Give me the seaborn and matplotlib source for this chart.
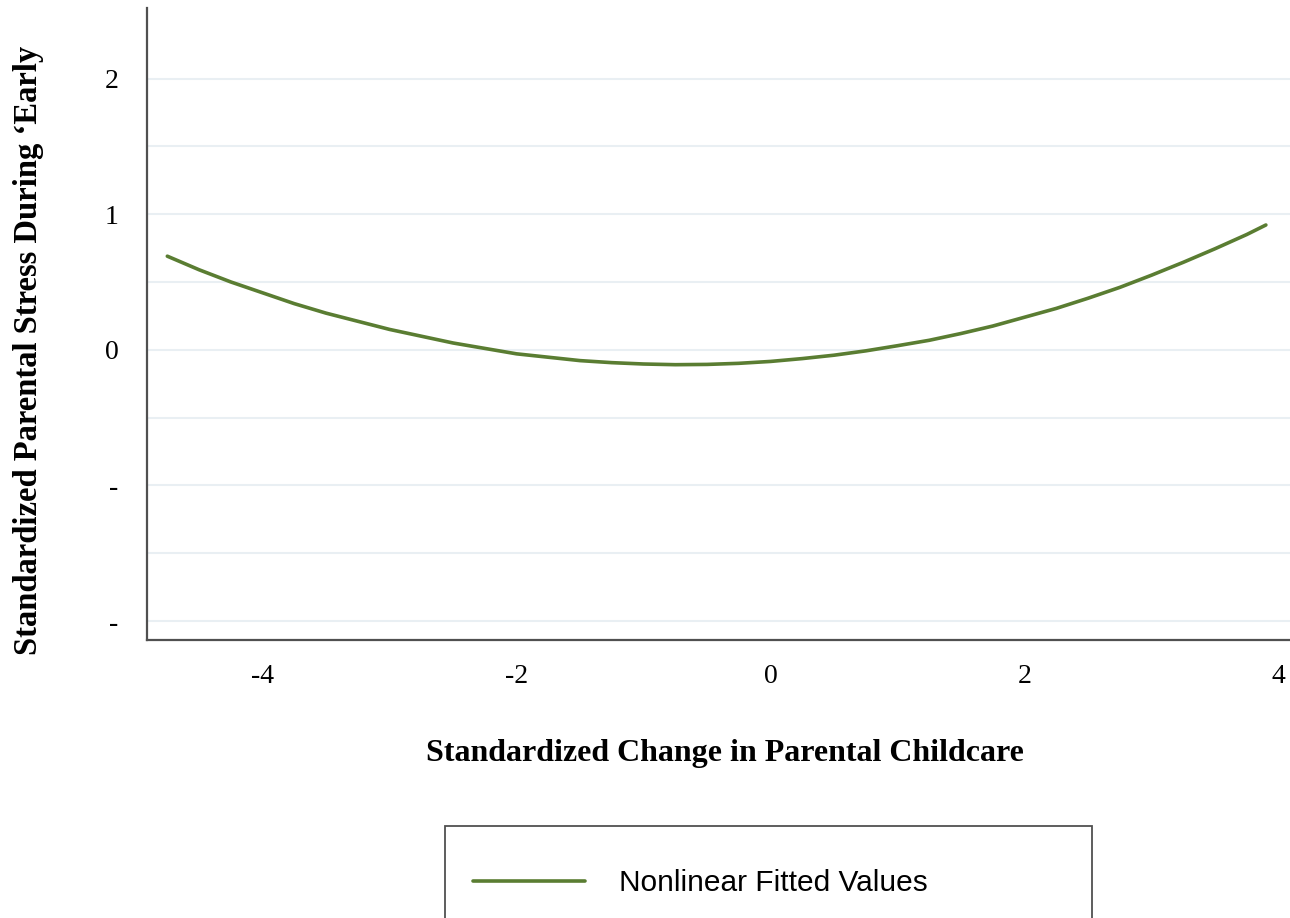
import matplotlib
matplotlib.use("Agg")
import matplotlib.pyplot as plt
import numpy as np
import pandas as pd
import seaborn as sns
from matplotlib.patches import Rectangle
from matplotlib.ticker import FixedLocator, FixedFormatter

# values
change_childcare = [-4.75, -4.5, -4.25, -4.0, -3.75, -3.5, -3.25, -3.0, -2.75, -2.5,
                    -2.25, -2.0, -1.75, -1.5, -1.25, -1.0, -0.75, -0.5, -0.25, 0.0,
                    0.25, 0.5, 0.75, 1.0, 1.25, 1.5, 1.75, 2.0, 2.25, 2.5,
                    2.75, 3.0, 3.25, 3.5, 3.75, 3.9]
fitted_stress = [0.69, 0.59, 0.50, 0.42, 0.34, 0.27, 0.21, 0.15, 0.10, 0.05,
                 0.01, -0.03, -0.055, -0.08, -0.095, -0.105, -0.11, -0.108, -0.10, -0.086,
                 -0.065, -0.04, -0.008, 0.03, 0.07, 0.12, 0.175, 0.24, 0.305, 0.38,
                 0.46, 0.55, 0.645, 0.745, 0.85, 0.92]

y_ticks = [2, 1, 0, -1, -2]
y_tick_labels = ["2", "1", "0", "-", "-"]
y_grid = [2, 1.5, 1, 0.5, 0, -0.5, -1, -1.5, -2]
x_ticks = [-4, -2, 0, 2, 4]
x_tick_labels = ["-4", "-2", "0", "2", "4"]

LINE_COLOR = "#5a7d32"
AXIS_COLOR = "#505050"
GRID_COLOR = "#e9eff3"

sns.set_style("white")
plt.rcParams["font.family"] = ["Liberation Serif", "DejaVu Serif"]
plt.rcParams["text.color"] = "black"

df = pd.DataFrame({"x": change_childcare, "y": fitted_stress})

fig = plt.figure(figsize=(12.9, 9.18), dpi=100)
ax = fig.add_axes([147 / 1290, 1 - 640 / 918, 1 - 147 / 1290, (640 - 8) / 918])

sns.lineplot(data=df, x="x", y="y", ax=ax, color=LINE_COLOR, linewidth=2.6,
             label="Nonlinear Fitted Values", legend=False)

ax.set_xlim(-4.91, 4.09)
ax.set_ylim(-2.14, 2.52)

ax.yaxis.set_major_locator(FixedLocator(y_ticks))
ax.yaxis.set_major_formatter(FixedFormatter(y_tick_labels))
ax.set_xticks(x_ticks)
ax.set_xticklabels(x_tick_labels)

for g in y_grid:
    ax.axhline(g, color=GRID_COLOR, linewidth=1.5, zorder=0)

for side in ["top", "right"]:
    ax.spines[side].set_visible(False)
for side in ["left", "bottom"]:
    ax.spines[side].set_color(AXIS_COLOR)
    ax.spines[side].set_linewidth(1.6)

ax.tick_params(axis="both", which="major", direction="out", length=8.5, width=1.6,
               color=AXIS_COLOR, labelsize=20, labelcolor="black")
ax.tick_params(axis="y", pad=12)
ax.tick_params(axis="x", pad=9)

ax.set_xlabel("")
ax.set_ylabel("")

fig.text(725 / 1290, 1 - 753 / 918, "Standardized Change in Parental Childcare",
         ha="center", va="center", fontsize=23, fontweight="bold", color="black")
fig.text(29 / 1290, 1 - 350 / 918, "Standardized Parental Stress During \u2018Early",
         ha="center", va="center", rotation=90, fontsize=23.5, fontweight="bold",
         color="black")

# legend box, cut off by the bottom edge like the reference
fig.patches.append(Rectangle((445 / 1290, -0.05), 647 / 1290, 1 - 826 / 918 + 0.05,
                             transform=fig.transFigure, facecolor="white",
                             edgecolor=AXIS_COLOR, linewidth=1.3))
handles, labels = ax.get_legend_handles_labels()
leg = fig.legend(handles, labels, loc="center left",
                 bbox_to_anchor=(458 / 1290, 1 - 883 / 918), frameon=False,
                 borderpad=0, handlelength=3.75, handletextpad=1.15,
                 prop={"family": ["Liberation Sans", "DejaVu Sans"], "size": 21.5})
for t in leg.get_texts():
    t.set_color("black")

fig.savefig("out.png", dpi=100)
